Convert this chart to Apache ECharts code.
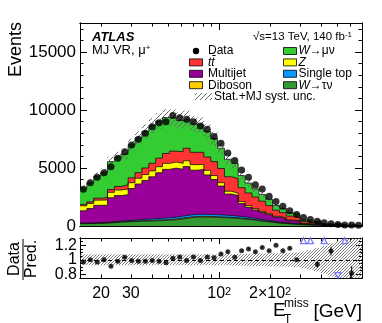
<!DOCTYPE html>
<html><head><meta charset="utf-8">
<script src="https://cdn.jsdelivr.net/npm/echarts@6/dist/echarts.min.js"></script>
<style>html,body{margin:0;padding:0;background:#fff}#c{width:382px;height:323px}</style>
</head><body><div id="c"></div>
<script>
// ---- data ----
const binEdges = [15.00,16.47,18.09,19.87,21.82,23.97,26.32,28.91,31.75,34.87,38.30,42.06,46.19,50.73,55.72,61.19,67.20,73.80,81.06,89.02,97.77,107.37,117.92,129.51,142.24,156.21,171.56,188.42,206.93,227.27,249.60,274.13,301.07,330.65,363.14,398.82,438.01,481.05,528.32,580.23,637.25,700.00];
const dataVals = [3164,3733,4198,4595,5112,5836,6405,6976,7474,7991,8560,8905,8991,9530,9335,9197,8991,8620,8335,7720,7130,6300,5650,4828,4210,3560,3180,2570,2110,1700,1310,1000,740,560,420,280,190,140,90,80,55];
const wtaunu = [200,215,230,250,290,330,360,390,410,430,450,470,500,540,620,700,760,770,760,740,720,690,650,600,550,460,390,320,260,210,170,135,100,80,60,45,35,25,18,12,8];
const diboson = [20,22,25,28,30,33,36,40,44,48,52,56,60,62,64,65,65,64,62,60,57,53,49,45,40,36,32,28,24,20,17,14,11,9,7,5,4,3,2,2,1];
const singleTop = [25,30,35,40,50,60,70,85,100,115,130,140,150,160,170,175,180,180,178,175,170,160,150,140,125,110,95,80,68,55,45,35,28,20,15,11,8,6,4,3,2];
const multijet = [1065,1235,1490,1470,2060,2200,2235,2715,3065,3335,3610,3925,4170,4230,4035,4180,3805,3855,3400,3035,2495,1855,1780,1145,895,780,650,550,420,360,235,230,60,50,140,20,30,80,5,40,0];
const zjets = [430,440,450,460,470,480,490,500,500,510,510,520,520,520,510,500,480,450,400,340,290,240,200,170,140,115,95,80,65,55,45,36,28,22,17,13,10,8,6,4,3];
const ttbar = [120,140,170,200,250,300,360,420,480,560,650,740,850,940,1000,1080,1060,1030,1150,1200,1220,1250,1270,1200,1100,1000,880,700,530,450,340,290,160,110,100,50,40,40,10,20,8];
const wmunu = [1400,1650,1900,2150,2400,2550,2650,2850,3000,3150,3250,3200,3100,2900,2700,2550,2450,2350,2200,2000,1750,1500,1300,1050,850,700,580,530,400,360,280,260,135,110,110,55,45,38,15,17,8];
const uncRel = [0.075,0.075,0.075,0.075,0.075,0.075,0.075,0.075,0.075,0.075,0.075,0.075,0.075,0.075,0.075,0.075,0.075,0.075,0.075,0.075,0.075,0.077,0.079,0.081,0.083,0.085,0.087,0.089,0.091,0.093,0.095,0.1,0.115,0.135,0.16,0.19,0.23,0.26,0.30,0.35,0.40];
const ratioVals = [0.97,1.00,0.97,1.00,0.91,0.98,1.035,0.99,0.98,0.98,0.99,0.98,0.96,1.02,1.04,0.99,1.04,0.99,1.04,1.03,1.08,1.11,1.035,1.125,1.15,1.11,1.17,1.125,1.20,1.125,1.16,1.00,1.42,1.40,0.94,1.40,1.12,0.70,1.50,0.815,null];
const ratioErr = [0.01,0.01,0.01,0.01,0.01,0.01,0.01,0.01,0.01,0.01,0.01,0.01,0.01,0.01,0.01,0.01,0.01,0.01,0.01,0.01,0.01,0.01,0.01,0.01,0.01,0.01,0.01,0.01,0.01,0.01,0.01,0.01,0.05,0.06,0.05,0.08,0.06,0.09,0.15,0.10,0];
const xTickValues = [20,30,100,200];
const xTickLabels = ['20','30','{a|10}{s|2}','{a|2×10}{s|2}'];
const xMinorTicks = [20,30,40,50,60,70,80,90,200,300,400,500,600];
const xMajorTicks = [100];
const yMainTicks = [0,5000,10000,15000];
const yMainMinor = [1000,2000,3000,4000,6000,7000,8000,9000,11000,12000,13000,14000,16000,17000];
const yRatioTicks = [0.8,1.0,1.2];
const yRatioLabels = ['0.8','1','1.2'];
const yRatioMinor = [0.85,0.9,0.95,1.05,1.1,1.15,1.25];
const legendLeft = ['Data','tt̄','Multijet','Diboson'];
const legendRight = ['W→μν','Z','Single top','W→τν'];
const uncLabel = 'Stat.+MJ syst. unc.';

// ---- helpers ----
const L = Math.log10;
const FF = "'Liberation Sans', Arial, Helvetica, sans-serif";
const xMin = L(binEdges[0]), xMax = L(binEdges[binEdges.length-1]);
const nb = dataVals.length;
const centers = dataVals.map((_, i) => (L(binEdges[i]) + L(binEdges[i+1])) / 2);
const RMIN = 0.75, RMAX = 1.3;

// stack order: bottom first
const stackDefs = [
  {name:'W→τν', vals:wtaunu, color:'#339933'},
  {name:'Diboson', vals:diboson, color:'#ffcc00'},
  {name:'Single top', vals:singleTop, color:'#0a99ff'},
  {name:'Multijet', vals:multijet, color:'#990099'},
  {name:'Z', vals:zjets, color:'#ffff00'},
  {name:'tt̄', vals:ttbar, color:'#ff3333'},
  {name:'W→μν', vals:wmunu, color:'#33cc33'}
];
const cum = [];
stackDefs.forEach((d, k) => cum.push(d.vals.map((v, i) => v + (k ? cum[k-1][i] : 0))));
const total = cum[cum.length - 1];

function hatch(size, color, lw) {
  const c = document.createElement('canvas');
  c.width = size; c.height = size;
  const g = c.getContext('2d');
  g.strokeStyle = color; g.lineWidth = lw;
  g.beginPath();
  g.moveTo(0, size); g.lineTo(size, 0);
  g.moveTo(-1, 1); g.lineTo(1, -1);
  g.moveTo(size - 1, size + 1); g.lineTo(size + 1, size - 1);
  g.stroke();
  return {image: c, repeat: 'repeat'};
}
const hatchMain = hatch(5, '#666666', 1);
const hatchRatio = hatch(3, '#5a5a5a', 0.8);

function xAx(grid, pos, ticks, len, extra) {
  return Object.assign({
    type:'value', gridIndex:grid, position:pos, min:xMin, max:xMax,
    axisLine:{show:true, onZero:false, lineStyle:{color:'#000', width:1}},
    axisTick:{show:true, inside:true, length:len, customValues:ticks.map(L), lineStyle:{color:'#000', width:1}},
    axisLabel:{show:false}, splitLine:{show:false}
  }, extra || {});
}
function yAx(grid, pos, mn, mx, ticks, len, extra) {
  return Object.assign({
    type:'value', gridIndex:grid, position:pos, min:mn, max:mx,
    axisLine:{show:true, onZero:false, lineStyle:{color:'#000', width:1}},
    axisTick:{show:true, inside:true, length:len, customValues:ticks, lineStyle:{color:'#000', width:1}},
    axisLabel:{show:false}, splitLine:{show:false}
  }, extra || {});
}
function ratioLabel(vals) {
  return {show:true, margin:3, customValues:vals, color:'#000', fontSize:16, fontFamily:FF, hideOverlap:false,
    formatter: v => { for (let j = 0; j < yRatioTicks.length; j++) if (Math.abs(v - yRatioTicks[j]) < 1e-6) return yRatioLabels[j]; return ''; }};
}

const grids = [
  {left:80, top:23, width:282, height:203},
  {left:80, top:23, width:282, height:203},
  {left:80, top:238, width:282, height:40},
  {left:80, top:238, width:282, height:40}
];

const xAxes = [
  xAx(0, 'bottom', xMinorTicks, 3.5),
  xAx(0, 'top', xMinorTicks, 3.5),
  xAx(1, 'bottom', xMajorTicks, 7),
  xAx(1, 'top', xMajorTicks, 7),
  xAx(2, 'bottom', xMinorTicks, 3.5, {
    axisLabel:{show:true, margin:8, customValues:xTickValues.map(L), color:'#000', fontSize:16, fontFamily:FF, hideOverlap:false,
      formatter: v => { for (let j = 0; j < xTickValues.length; j++) if (Math.abs(v - L(xTickValues[j])) < 1e-6) return xTickLabels[j]; return ''; },
      rich:{a:{fontSize:16, fontFamily:FF, color:'#000'}, s:{fontSize:11, fontFamily:FF, color:'#000', verticalAlign:'top'}}}
  }),
  xAx(2, 'top', xMinorTicks, 3.5),
  xAx(3, 'bottom', xMajorTicks, 6),
  xAx(3, 'top', xMajorTicks, 6)
];
const yAxes = [
  yAx(0, 'left', 0, 17500, yMainTicks, 7, {
    axisLabel:{show:true, margin:4, customValues:yMainTicks, color:'#000', fontSize:17, fontFamily:FF, formatter: v => String(Math.round(v))}
  }),
  yAx(0, 'right', 0, 17500, yMainTicks, 7),
  yAx(1, 'left', 0, 17500, yMainMinor, 3.5),
  yAx(1, 'right', 0, 17500, yMainMinor, 3.5),
  yAx(2, 'left', RMIN, RMAX, yRatioTicks, 6, {axisLabel: ratioLabel([yRatioTicks[0], yRatioTicks[2]])}),
  yAx(2, 'right', RMIN, RMAX, yRatioTicks, 6),
  yAx(3, 'left', RMIN, RMAX, yRatioMinor, 3, {axisLabel: ratioLabel([yRatioTicks[1]])}),
  yAx(3, 'right', RMIN, RMAX, yRatioMinor, 3)
];

function rectBand(xi, yi, rects, fill, z) {
  return {
    type:'custom', xAxisIndex:xi, yAxisIndex:yi, silent:true, z:z,
    data:rects, encode:{x:[0,1], y:[2,3]},
    renderItem:(p, api) => {
      const a = api.coord([api.value(0), api.value(3)]);
      const b = api.coord([api.value(1), api.value(2)]);
      return {type:'rect', shape:{x:a[0], y:a[1], width:b[0]-a[0], height:b[1]-a[1]}, style:{fill:fill}};
    }
  };
}

const series = [];
// draw cumulative layers from the top one down, so lower layers cover upper fills
for (let k = stackDefs.length - 1; k >= 0; k--) {
  const d = stackDefs[k];
  const pts = binEdges.map((e, i) => [L(e), cum[k][Math.min(i, nb - 1)]]);
  series.push({
    type:'line', name:d.name, step:'end', symbol:'none', silent:true,
    xAxisIndex:0, yAxisIndex:0, z:2, data:pts,
    lineStyle:{color:'#111', width:0.8}, itemStyle:{color:d.color},
    areaStyle:{color:d.color, opacity:1, origin:'start'}
  });
}
const mainBand = total.map((t, i) => [L(binEdges[i]), L(binEdges[i+1]), t * (1 - uncRel[i]), t * (1 + uncRel[i])]);
series.push(rectBand(0, 0, mainBand, hatchMain, 3));
series.push({
  type:'scatter', xAxisIndex:0, yAxisIndex:0, z:5, silent:true, symbol:'circle', symbolSize:7,
  itemStyle:{color:'#000'}, data:dataVals.map((v, i) => [centers[i], v])
});

const ratioBand = uncRel.map((u, i) => [L(binEdges[i]), L(binEdges[i+1]), Math.max(RMIN, 1 - u), Math.min(RMAX, 1 + u)]);
series.push(rectBand(4, 4, ratioBand, hatchRatio, 2));
const inR = [], errR = [], upR = [], dnR = [];
ratioVals.forEach((r, i) => {
  if (r === null) return;
  if (r > RMAX) upR.push([centers[i], RMAX - 0.036]);
  else if (r < RMIN) dnR.push([centers[i], RMIN + 0.034]);
  else { inR.push([centers[i], r]); errR.push([centers[i], Math.max(RMIN, r - ratioErr[i]), Math.min(RMAX, r + ratioErr[i])]); }
});
series.push({
  type:'scatter', xAxisIndex:4, yAxisIndex:4, z:5, silent:true, symbol:'circle', symbolSize:5,
  itemStyle:{color:'#000'}, data:inR,
  markLine:{silent:true, symbol:['none','none'], label:{show:false}, z:3,
    lineStyle:{type:[4,3], color:'#000', width:1}, data:[{yAxis:1}]}
});
series.push({
  type:'custom', xAxisIndex:4, yAxisIndex:4, z:5, silent:true, data:errR, encode:{x:0, y:[1,2]},
  renderItem:(p, api) => {
    const a = api.coord([api.value(0), api.value(1)]);
    const b = api.coord([api.value(0), api.value(2)]);
    return {type:'line', shape:{x1:a[0], y1:a[1], x2:b[0], y2:b[1]}, style:{stroke:'#000', lineWidth:1}};
  }
});
series.push({
  type:'scatter', xAxisIndex:4, yAxisIndex:4, z:6, silent:true, symbol:'triangle', symbolSize:[6,6],
  itemStyle:{color:'#ffffff', borderColor:'#5a5aff', borderWidth:1.2}, data:upR
});
series.push({
  type:'scatter', xAxisIndex:4, yAxisIndex:4, z:6, silent:true, symbol:'triangle', symbolSize:[6,6], symbolRotate:180,
  itemStyle:{color:'#ffffff', borderColor:'#5a5aff', borderWidth:1.2}, data:dnR
});

// ---- text / legend ----
const richBase = {
  i:{fontFamily:FF, fontSize:12, fontStyle:'italic', fill:'#000'},
  n:{fontFamily:FF, fontSize:12, fill:'#000'}
};
function legendRich(name) {
  if (name === 'tt̄' || name === 'Z') return '{i|' + name + '}';
  if (name.startsWith('W')) return '{i|W}{n|' + name.slice(1) + '}';
  return '{n|' + name + '}';
}
const colorOf = {};
stackDefs.forEach(d => colorOf[d.name] = d.color);
const els = [];
const rowY0 = 51, rowDy = 11.4;
legendLeft.forEach((nm, r) => {
  const cy = rowY0 + r * rowDy;
  if (nm === 'Data') els.push({type:'circle', shape:{cx:196, cy:cy, r:3.2}, style:{fill:'#000'}});
  else els.push({type:'rect', shape:{x:189.5, y:cy - 3.5, width:13, height:7}, style:{fill:colorOf[nm], stroke:'#000', lineWidth:0.8}});
  els.push({type:'text', style:{x:208, y:cy, text:legendRich(nm), rich:richBase, align:'left', verticalAlign:'middle', font:'12px ' + FF}});
});
legendRight.forEach((nm, r) => {
  const cy = rowY0 + r * rowDy;
  els.push({type:'rect', shape:{x:283.5, y:cy - 3.5, width:13, height:7}, style:{fill:colorOf[nm], stroke:'#000', lineWidth:0.8}});
  els.push({type:'text', style:{x:298.5, y:cy, text:legendRich(nm), rich:richBase, align:'left', verticalAlign:'middle', font:'12px ' + FF}});
});
{
  const cy = rowY0 + 4 * rowDy;
  els.push({type:'rect', shape:{x:195, y:cy - 3.5, width:17, height:7}, style:{fill:hatchMain}});
  els.push({type:'text', style:{x:214, y:cy, text:uncLabel, align:'left', verticalAlign:'middle', font:'12px ' + FF, fill:'#000'}});
}
els.push({type:'text', style:{x:92, y:37, text:'ATLAS', align:'left', verticalAlign:'middle', font:'italic bold 13px ' + FF, fill:'#000'}});
els.push({type:'text', style:{x:92, y:50.5, text:'MJ VR, μ{s|+}', align:'left', verticalAlign:'middle', font:'13px ' + FF, fill:'#000',
  rich:{s:{fontFamily:FF, fontSize:8, verticalAlign:'top', fill:'#000'}}}});
els.push({type:'text', style:{x:352, y:36.5, text:'√s=13 TeV, 140 fb{s|-1}', align:'right', verticalAlign:'middle', font:'11.5px ' + FF, fill:'#000',
  rich:{s:{fontFamily:FF, fontSize:8, verticalAlign:'top', fill:'#000'}}}});
els.push({type:'text', rotation:Math.PI/2, x:16, y:49.5, style:{x:0, y:0, text:'Events', align:'center', verticalAlign:'middle', font:'18px ' + FF, fill:'#000'}});
els.push({type:'text', rotation:Math.PI/2, x:14.5, y:259, style:{x:0, y:0, text:'Data', align:'center', verticalAlign:'middle', font:'16px ' + FF, fill:'#000'}});
els.push({type:'text', rotation:Math.PI/2, x:32, y:259, style:{x:0, y:0, text:'Pred.', align:'center', verticalAlign:'middle', font:'16px ' + FF, fill:'#000'}});
els.push({type:'line', shape:{x1:23, y1:239, x2:23, y2:280}, style:{stroke:'#000', lineWidth:1}});
els.push({type:'text', style:{x:273, y:311, text:'E', align:'left', verticalAlign:'middle', font:'19px ' + FF, fill:'#000'}});
els.push({type:'text', style:{x:284, y:319.5, text:'T', align:'left', verticalAlign:'middle', font:'12px ' + FF, fill:'#000'}});
els.push({type:'text', style:{x:284, y:304, text:'miss', align:'left', verticalAlign:'middle', font:'12px ' + FF, fill:'#000'}});
els.push({type:'text', style:{x:362, y:311.5, text:'[GeV]', align:'right', verticalAlign:'middle', font:'19px ' + FF, fill:'#000'}});

const chart = echarts.init(document.getElementById('c'), null, {renderer:'canvas'});
chart.setOption({
  animation:false,
  backgroundColor:'#fff',
  grid:grids, xAxis:xAxes, yAxis:yAxes, series:series,
  graphic:{elements:echarts.util ? els : els}
});
</script>
</body></html>
